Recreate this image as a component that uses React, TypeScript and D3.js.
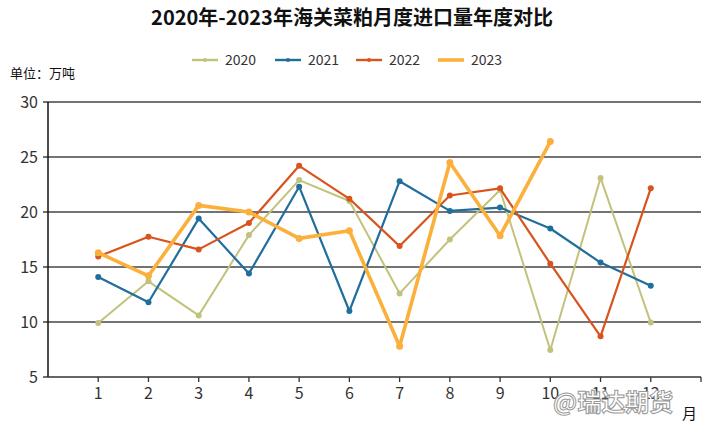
import React from "react";
import * as d3 from "d3";

const months = [1, 2, 3, 4, 5, 6, 7, 8, 9, 10, 11, 12];
const years = ["2020", "2021", "2022", "2023"];
const values2020 = [9.9, 13.7, 10.6, 17.9, 22.9, 21.0, 12.6, 17.5, 22.0, 7.45, 23.1, 9.95];
const values2021 = [14.1, 11.8, 19.4, 14.4, 22.3, 11.0, 22.8, 20.1, 20.4, 18.5, 15.4, 13.3];
const values2022 = [15.95, 17.75, 16.6, 19.0, 24.2, 21.2, 16.9, 21.5, 22.15, 15.3, 8.7, 22.15];
const values2023 = [16.3, 14.2, 20.6, 20.0, 17.6, 18.3, 7.8, 24.5, 17.85, 26.4];
const yTicks = [5, 10, 15, 20, 25, 30];
const colors = ["#c2c27c", "#1f6e9c", "#d9541d", "#fbb03b"];
const widths = [2, 2.2, 2.2, 3.6];

const seriesValues = [values2020, values2021, values2022, values2023];

export default function App() {
  const W = 711, H = 432;
  const left = 48, right = 701, top = 102, bottom = 377;
  const x = d3.scaleLinear().domain([0, 13]).range([left, right]);
  const y = d3.scaleLinear().domain([5, 30]).range([bottom, top]);
  const line = d3.line<number>().x((_, i) => x(months[i])).y((d) => y(d));
  const font = "'Noto Sans CJK SC', 'Noto Sans', sans-serif";
  const legendX = [192, 275, 356, 438];
  return (
    <svg width={W} height={H} style={{ position: "absolute", left: 0, top: 0, background: "#fff" }} fontFamily={font}>
      <text x={352} y={25} textAnchor="middle" fontSize={20} fontWeight="bold" fill="#111">
        2020年-2023年海关菜粕月度进口量年度对比
      </text>
      {years.map((yr, i) => (
        <g key={yr} transform={`translate(${legendX[i]},60)`}>
          <line x1={0} x2={26} y1={0} y2={0} stroke={colors[i]} strokeWidth={i === 3 ? 3.6 : 2.4} />
          {i < 3 && <circle cx={13} cy={0} r={2} fill={colors[i]} />}
          <text x={33} y={5} fontSize={14} fill="#333">{yr}</text>
        </g>
      ))}
      <text x={10} y={78} fontSize={13} fill="#111">单位：万吨</text>
      {yTicks.map((t) => (
        <g key={t}>
          {t > 5 && <line x1={left} x2={right} y1={y(t)} y2={y(t)} stroke="#444" strokeWidth={1.3} />}
          <line x1={left - 5} x2={left} y1={y(t)} y2={y(t)} stroke="#222" strokeWidth={1.3} />
          <text x={38} y={y(t) + 6} textAnchor="end" fontSize={16} fill="#333">{t}</text>
        </g>
      ))}
      <line x1={left} x2={left} y1={top} y2={bottom} stroke="#111" strokeWidth={1.5} />
      <line x1={left} x2={right} y1={bottom} y2={bottom} stroke="#333" strokeWidth={1.5} />
      {[...months, 13].map((m) => (
        <line key={m} x1={x(m)} x2={x(m)} y1={bottom} y2={bottom + 5} stroke="#333" strokeWidth={1.3} />
      ))}
      {months.map((m) => (
        <text key={m} x={x(m)} y={399} textAnchor="middle" fontSize={16} fill="#333">{m}</text>
      ))}
      <text x={682} y={419} fontSize={15} fill="#111">月</text>
      {seriesValues.map((vals, si) => (
        <g key={si}>
          <path d={line(vals) || ""} fill="none" stroke={colors[si]} strokeWidth={widths[si]} strokeLinejoin="round" />
          {vals.map((v, i) => (
            <circle key={i} cx={x(months[i])} cy={y(v)} r={si === 3 ? 3.5 : 3} fill={colors[si]} />
          ))}
        </g>
      ))}
      <text x={553} y={411} fontSize={24} fill="#fff" stroke="#999" strokeWidth={1} fontWeight="bold">
        @瑞达期货
      </text>
    </svg>
  );
}
